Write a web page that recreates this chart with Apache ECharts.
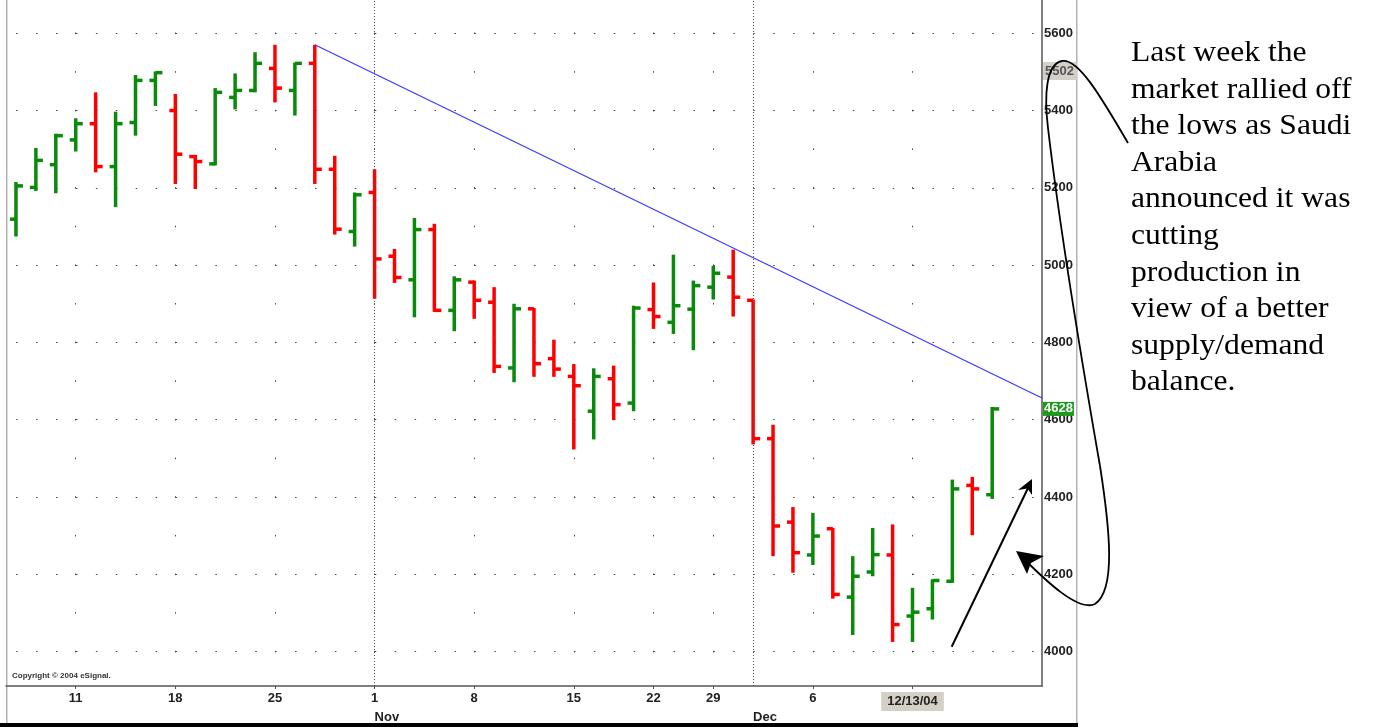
<!DOCTYPE html>
<html>
<head>
<meta charset="utf-8">
<title>Crude oil daily bars</title>
<script src="https://cdn.jsdelivr.net/npm/echarts@6/dist/echarts.min.js"></script>
<style>
html, body { margin: 0; padding: 0; background: #fff; }
#main { width: 1373px; height: 727px; }
</style>
</head>
<body>
<div id="main"></div>
<script>
// daily bars Oct 6 - Dec 17 2004, one slot per trading day (2 empty slots on the right)
var opens  = [5119, 5201, 5260, 5324, 5366, 5255, 5369, 5478, 5400, 5281,
              5262, 5434, 5452, 5509, 5452, 5522, 5248, 5087, 5188, 5023,
              4962, 5092, 4883, 4956, 4904, 4734, 4887, 4758, 4712, 4622,
              4706, 4643, 4885, 4852, 4886, 4943, 4969, 4909, 4551, 4335,
              4250, 4318, 4141, 4206, 4250, 4092, 4111, 4182, 4430, 4406];
var highs  = [5215, 5303, 5340, 5380, 5447, 5397, 5492, 5501, 5443, 5285,
              5458, 5496, 5551, 5570, 5524, 5570, 5283, 5188, 5248, 5042,
              5122, 5107, 4971, 4960, 4943, 4900, 4889, 4807, 4744, 4733,
              4740, 4895, 4955, 5027, 4960, 4998, 5040, 4911, 4587, 4374,
              4359, 4320, 4247, 4320, 4329, 4165, 4187, 4445, 4452, 4633];
var lows   = [5074, 5192, 5186, 5294, 5240, 5150, 5335, 5412, 5210, 5197,
              5258, 5403, 5447, 5421, 5387, 5210, 5079, 5048, 4913, 4954,
              4865, 4879, 4829, 4861, 4721, 4697, 4711, 4711, 4523, 4549,
              4599, 4622, 4835, 4822, 4780, 4911, 4867, 4536, 4247, 4204,
              4224, 4137, 4043, 4195, 4025, 4025, 4083, 4178, 4301, 4395];
var closes = [5205, 5271, 5335, 5366, 5255, 5366, 5478, 5498, 5287, 5268,
              5447, 5452, 5522, 5458, 5522, 5248, 5093, 5182, 5016, 4968,
              5092, 4883, 4962, 4909, 4738, 4887, 4745, 4731, 4688, 4712,
              4639, 4889, 4867, 4895, 4947, 4979, 4917, 4551, 4325, 4256,
              4299, 4148, 4195, 4251, 4070, 4102, 4184, 4421, 4421, 4628];

var slotCount = 52;
var dayTickIdx  = [3, 8, 13, 18, 23, 28, 32, 35, 40, 45];
var dayTickText = ['11', '18', '25', '1', '8', '15', '22', '29', '6', '12/13/04'];
var monthIdx  = [18, 37];
var monthText = ['Nov', 'Dec'];
var priceTicks = [4000, 4200, 4400, 4600, 4800, 5000, 5200, 5400, 5600];

var trendStart = [15, 5570];
var trendEnd   = [51.5, 4656];
var cursorPrice = 5502;
var lastClose = closes[closes.length - 1];

var noteLines = ['Last week the', 'market rallied off', 'the lows as Saudi', 'Arabia',
                 'announced it was', 'cutting', 'production in', 'view of a better',
                 'supply/demand', 'balance.'];

var UP = '#0a8a0a', DOWN = '#ff0000';
var axisFont = "'Liberation Sans', Arial, sans-serif";

var bars = opens.map(function (o, i) {
    return [i, o, closes[i], lows[i], highs[i]];
});

function dayLabel(v) {
    var k = dayTickIdx.indexOf(Math.round(v));
    if (k < 0) return '';
    if (dayTickText[k].indexOf('/') >= 0) return '{hl|' + dayTickText[k] + '}';
    return dayTickText[k];
}

function monthLabel(v) {
    var k = monthIdx.indexOf(Math.round(v));
    return k < 0 ? '' : monthText[k];
}

// OHLC bar: high-low stem, open tick left, close tick right
function renderBar(params, api) {
    var i = api.value(0);
    var o = api.value(1), c = api.value(2);
    var pH = api.coord([i, api.value(4)]);
    var pL = api.coord([i, api.value(3)]);
    var pO = api.coord([i, o]);
    var pC = api.coord([i, c]);
    var x = pH[0];
    var col = c >= o ? UP : DOWN;
    var st = { stroke: col, lineWidth: 3.5, lineCap: 'butt' };
    return {
        type: 'group',
        children: [
            { type: 'line', shape: { x1: x, y1: pH[1], x2: x, y2: pL[1] }, style: st },
            { type: 'line', shape: { x1: x - 6, y1: pO[1], x2: x, y2: pO[1] }, style: st },
            { type: 'line', shape: { x1: x, y1: pC[1], x2: x + 7, y2: pC[1] }, style: st }
        ]
    };
}

var myChart = echarts.init(document.getElementById('main'));

var option = {
    backgroundColor: '#fff',
    animation: false,
    grid: { left: 6, top: 0, width: 1036, height: 686, outerBoundsMode: 'none' },
    xAxis: [{
        type: 'value',
        min: -0.5,
        max: slotCount - 0.5,
        position: 'bottom',
        axisLine: { show: true, onZero: false, lineStyle: { color: '#555', width: 1.5 } },
        axisTick: { show: true, customValues: dayTickIdx, length: 3, lineStyle: { color: '#555' } },
        axisLabel: {
            customValues: dayTickIdx,
            formatter: dayLabel,
            margin: 6,
            color: '#222',
            fontFamily: axisFont,
            fontWeight: 'bold',
            fontSize: 13,
            rich: {
                hl: {
                    backgroundColor: '#d4d0c8',
                    padding: [3, 6, 3, 6],
                    color: '#222',
                    fontFamily: axisFont,
                    fontWeight: 'bold',
                    fontSize: 13
                }
            }
        },
        splitLine: {
            show: true,
            lineStyle: { color: '#444', width: 1, type: [1.5, 37.144], dashOffset: 6.09 }
        }
    }, {
        type: 'value',
        min: -0.5,
        max: slotCount - 0.5,
        position: 'bottom',
        axisLine: { show: false, onZero: false },
        axisTick: { show: false },
        splitLine: { show: false },
        axisLabel: {
            customValues: monthIdx,
            formatter: monthLabel,
            align: 'left',
            margin: 25,
            color: '#222',
            fontFamily: axisFont,
            fontWeight: 'bold',
            fontSize: 13
        }
    }],
    yAxis: {
        type: 'value',
        position: 'right',
        min: 3911,
        max: 5686,
        axisLine: { show: true, onZero: false, lineStyle: { color: '#555', width: 1.5 } },
        axisTick: { show: false, customValues: priceTicks },
        axisLabel: {
            customValues: priceTicks,
            formatter: function (v) { return String(v); },
            margin: 2,
            color: '#222',
            fontFamily: axisFont,
            fontWeight: 'bold',
            fontSize: 13
        },
        splitLine: {
            show: true,
            lineStyle: { color: '#444', width: 1, type: [1.5, 18.42], dashOffset: 9.72 }
        }
    },
    series: [{
        type: 'custom',
        renderItem: renderBar,
        data: bars,
        encode: { x: 0, y: [1, 2, 3, 4] },
        silent: true,
        z: 3
    }, {
        type: 'line',
        data: [trendStart, trendEnd],
        showSymbol: false,
        silent: true,
        lineStyle: { color: '#3a3aff', width: 1.2 },
        z: 4,
        markLine: {
            silent: true,
            symbol: ['none', 'none'],
            animation: false,
            data: [
                { xAxis: monthIdx[0], lineStyle: { color: '#555', width: 1, type: [1, 2] }, label: { show: false } },
                { xAxis: monthIdx[1], lineStyle: { color: '#555', width: 1, type: [1, 2] }, label: { show: false } },
                {
                    yAxis: cursorPrice,
                    lineStyle: { color: 'rgba(0,0,0,0)', width: 0 },
                    label: {
                        show: true, position: 'end', distance: 1, formatter: String(cursorPrice),
                        backgroundColor: '#d4d0c8', color: '#555', padding: [3, 3, 2, 2],
                        fontFamily: axisFont, fontWeight: 'bold', fontSize: 13
                    }
                },
                {
                    yAxis: lastClose,
                    lineStyle: { color: 'rgba(0,0,0,0)', width: 0 },
                    label: {
                        show: true, position: 'end', distance: 1, formatter: String(lastClose),
                        backgroundColor: '#1c9a1c', color: '#fff', padding: [1, 1, 0, 1],
                        fontFamily: axisFont, fontWeight: 'bold', fontSize: 13
                    }
                }
            ]
        }
    }],
    graphic: [
        { type: 'rect', shape: { x: 6, y: 0, width: 1.5, height: 723 }, style: { fill: '#b4b4b4' }, silent: true },
        { type: 'rect', shape: { x: 1076, y: 0, width: 1.5, height: 723 }, style: { fill: '#b4b4b4' }, silent: true },
        { type: 'rect', shape: { x: 0, y: 723, width: 1078, height: 4 }, style: { fill: '#000' }, z: 50, silent: true },
        {
            type: 'text', x: 12, y: 672, silent: true,
            style: { text: 'Copyright \u00a9 2004 eSignal.', fill: '#333', font: 'bold 8px "Liberation Sans", sans-serif' }
        },
        {
            type: 'text', x: 1131, y: 35, scaleX: 1.09, silent: true,
            style: {
                text: noteLines.join('\n'),
                fill: '#000',
                fontFamily: '"Liberation Serif", "Times New Roman", serif',
                fontSize: 29,
                lineHeight: 36.6,
                align: 'left',
                verticalAlign: 'top'
            }
        },
        // callout loop from the note down to the last bars
        { type: 'bezierCurve', z: 60, silent: true, style: { stroke: '#000', lineWidth: 1.8, fill: null },
          shape: { x1: 1128, y1: 143, cpx1: 1100, cpy1: 95, cpx2: 1078, cpy2: 58, x2: 1062, y2: 61 } },
        { type: 'bezierCurve', z: 60, silent: true, style: { stroke: '#000', lineWidth: 1.8, fill: null },
          shape: { x1: 1062, y1: 61, cpx1: 1046, cpy1: 64, cpx2: 1044, cpy2: 95, x2: 1048, y2: 128 } },
        { type: 'bezierCurve', z: 60, silent: true, style: { stroke: '#000', lineWidth: 1.8, fill: null },
          shape: { x1: 1048, y1: 128, cpx1: 1060, cpy1: 230, cpx2: 1085, cpy2: 380, x2: 1100, y2: 466 } },
        { type: 'bezierCurve', z: 60, silent: true, style: { stroke: '#000', lineWidth: 1.8, fill: null },
          shape: { x1: 1100, y1: 466, cpx1: 1110, cpy1: 530, cpx2: 1116, cpy2: 590, x2: 1095, y2: 604 } },
        { type: 'bezierCurve', z: 60, silent: true, style: { stroke: '#000', lineWidth: 1.8, fill: null },
          shape: { x1: 1095, y1: 604, cpx1: 1078, cpy1: 612, cpx2: 1045, cpy2: 580, x2: 1022, y2: 557 } },
        { type: 'polygon', z: 60, silent: true, style: { fill: '#000' },
          shape: { points: [[1016, 551], [1044, 556], [1031, 563], [1027, 574]] } },
        // straight arrow
        { type: 'line', z: 60, silent: true, style: { stroke: '#000', lineWidth: 2 },
          shape: { x1: 951.7, y1: 646.7, x2: 1028, y2: 488 } },
        { type: 'polygon', z: 60, silent: true, style: { fill: '#000' },
          shape: { points: [[1032, 479], [1018, 490], [1027.5, 488.5], [1032, 495]] } }
    ]
};

myChart.setOption(option);
</script>
</body>
</html>
